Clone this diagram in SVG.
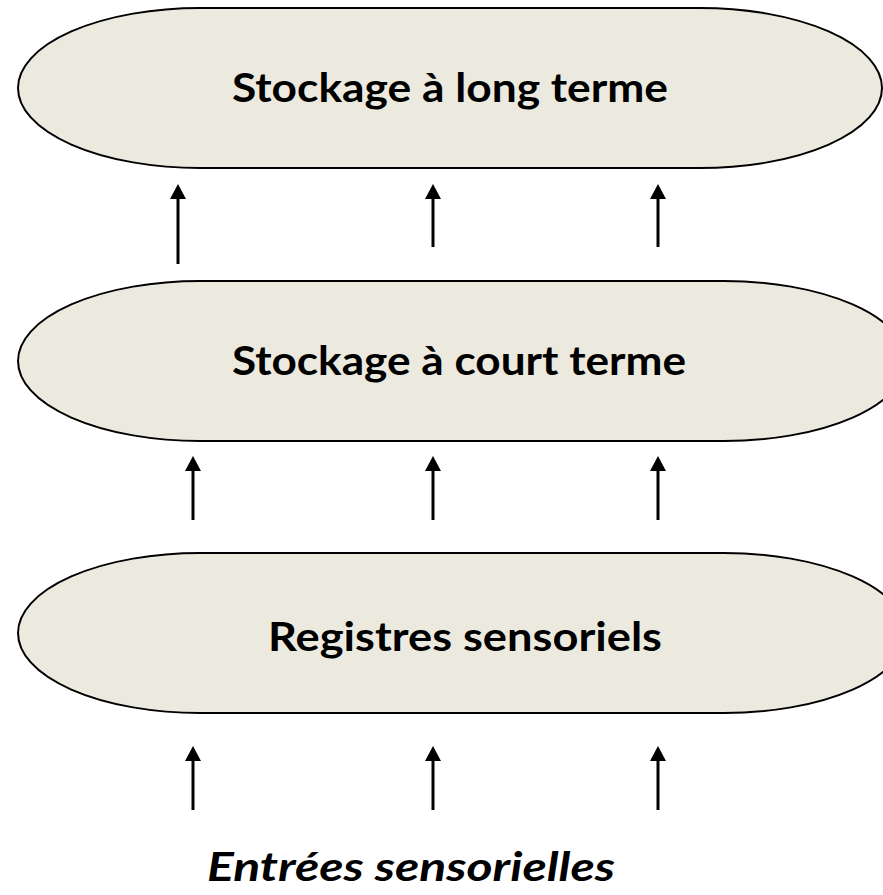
<svg xmlns="http://www.w3.org/2000/svg" width="883" height="895" viewBox="0 0 883 895">
  <defs>
    <style>
      .stage { fill: #ECEADF; stroke: #000; stroke-width: 2; }
      .label { font-family: Lato, "Open Sans", "Liberation Sans", sans-serif; font-weight: bold; font-size: 41px; fill: #000; text-anchor: middle; }
      .input { font-style: italic; font-size: 40px; }
      .flow { stroke: #000; stroke-width: 3; fill: none; marker-end: url(#head); }
    </style>
    <!-- solid triangular arrowhead, drawn ahead of the line end -->
    <marker id="head" markerUnits="userSpaceOnUse" viewBox="0 0 15 16" refX="0" refY="8" markerWidth="15" markerHeight="16" orient="auto">
      <path d="M0,0 L15,8 L0,16 Z" fill="#000"/>
    </marker>
  </defs>

  <!-- memory stages -->
  <g id="long-term">
    <rect class="stage" x="18" y="8" width="864" height="160" rx="182" ry="80"/>
    <text class="label" x="450" y="102" textLength="436" lengthAdjust="spacingAndGlyphs">Stockage à long terme</text>
  </g>
  <g id="short-term">
    <rect class="stage" x="18" y="281" width="888" height="160" rx="182" ry="80"/>
    <text class="label" x="459" y="375" textLength="454" lengthAdjust="spacingAndGlyphs">Stockage à court terme</text>
  </g>
  <g id="sensory-registers">
    <rect class="stage" x="18" y="553" width="888" height="160" rx="182" ry="80"/>
    <text class="label" x="465" y="651" textLength="394" lengthAdjust="spacingAndGlyphs">Registres sensoriels</text>
  </g>
  <g id="sensory-input">
    <text class="label input" x="411" y="881" textLength="408" lengthAdjust="spacingAndGlyphs">Entrées sensorielles</text>
  </g>

  <!-- upward flows between stages -->
  <g id="connectors">
    <line class="flow" x1="178" y1="264" x2="178" y2="199"/>
    <line class="flow" x1="433" y1="247" x2="433" y2="199"/>
    <line class="flow" x1="658" y1="247" x2="658" y2="199"/>

    <line class="flow" x1="193" y1="520" x2="193" y2="471"/>
    <line class="flow" x1="433" y1="520" x2="433" y2="471"/>
    <line class="flow" x1="658" y1="520" x2="658" y2="471"/>

    <line class="flow" x1="193" y1="810" x2="193" y2="761"/>
    <line class="flow" x1="433" y1="810" x2="433" y2="761"/>
    <line class="flow" x1="658" y1="810" x2="658" y2="761"/>
  </g>
</svg>
